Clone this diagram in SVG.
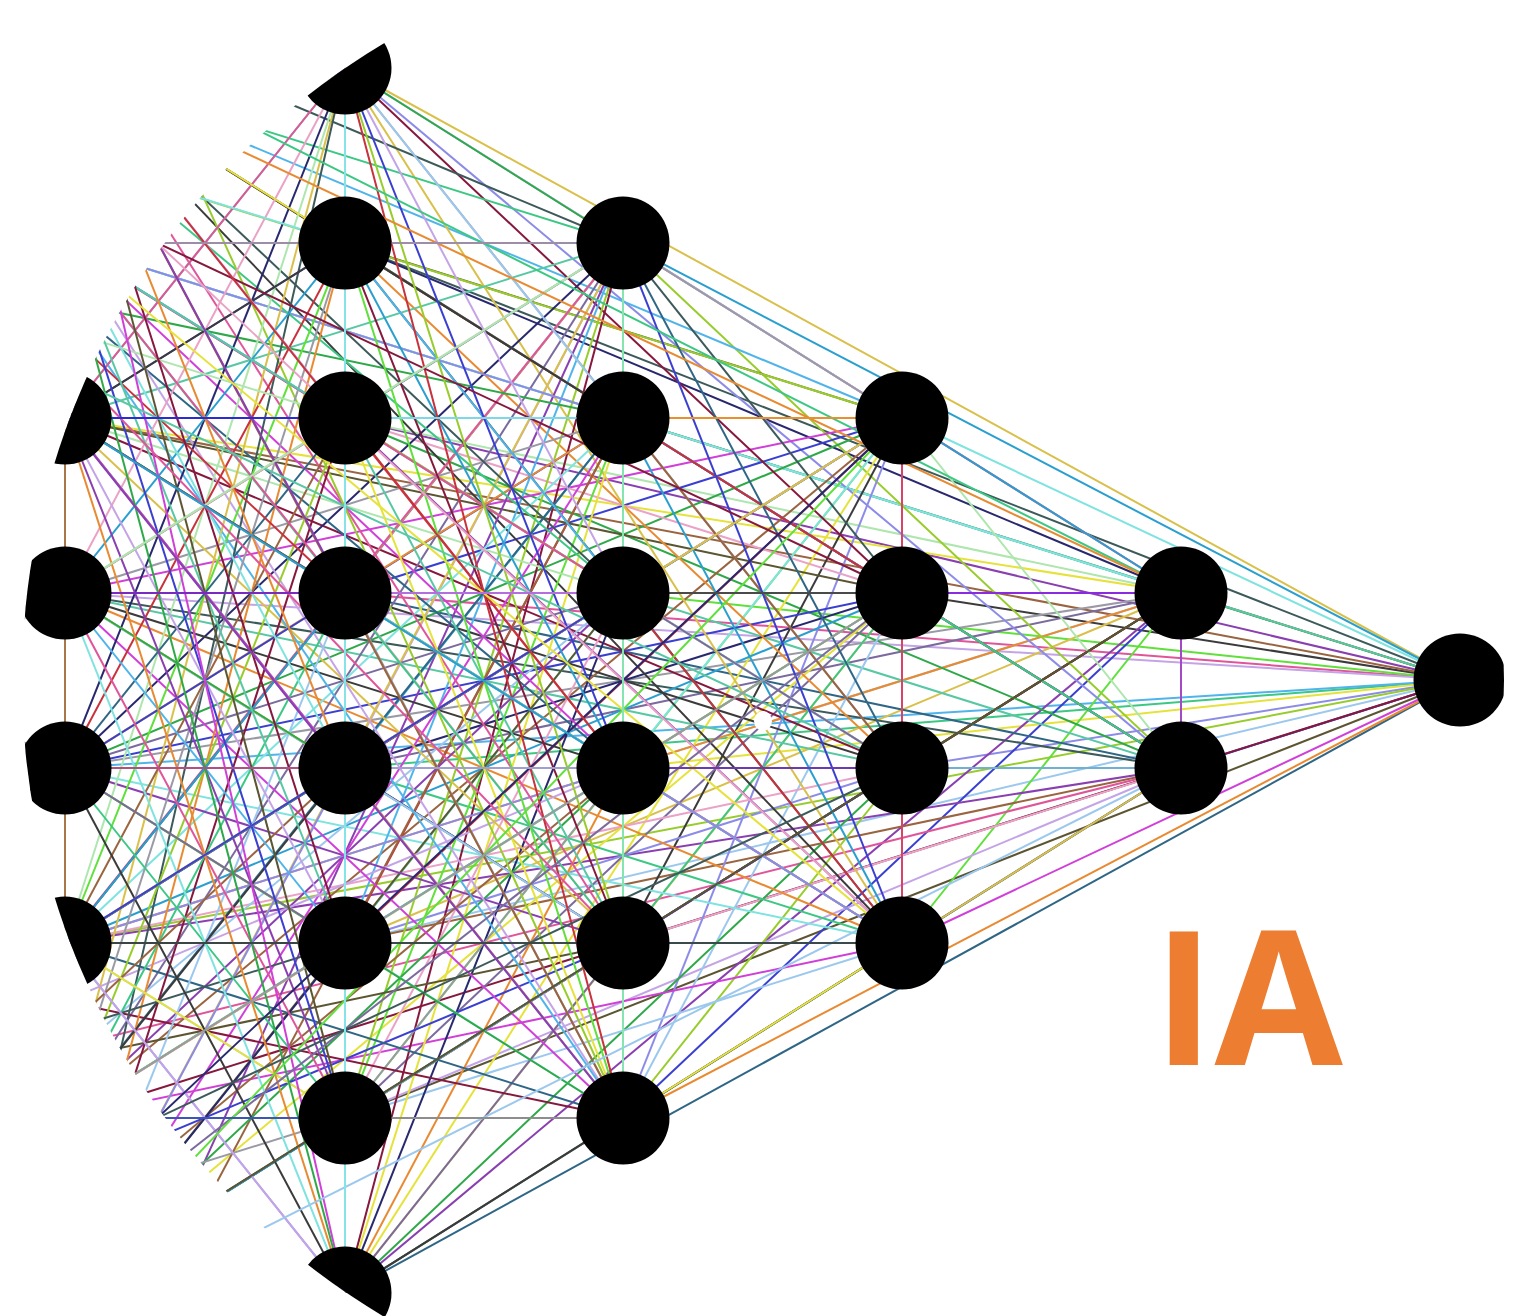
<svg xmlns="http://www.w3.org/2000/svg" width="1519" height="1316" viewBox="0 0 1519 1316">
<defs>
<clipPath id="disc"><circle cx="763" cy="680" r="741"/></clipPath>
<style>
.w path{fill:none;stroke-width:2}
.k0{stroke:#d9c04a}.k1{stroke:#3d5a5a}.k2{stroke:#8a3fb0}.k3{stroke:#e0559a}.k4{stroke:#3cc884}
.k5{stroke:#9cc8ee}.k6{stroke:#5c5532}.k7{stroke:#3a3fd0}.k8{stroke:#2a9fcf}.k9{stroke:#c8323c}
.k10{stroke:#5fe03a}.k11{stroke:#e6e23c}.k12{stroke:#9a9aa6}.k13{stroke:#e88a32}.k14{stroke:#7fe3e0}
.k15{stroke:#3b3b3b}.k16{stroke:#8c8ce8}.k17{stroke:#d040d8}.k18{stroke:#2ea848}.k19{stroke:#2f6685}
.k20{stroke:#9a6440}.k21{stroke:#c4a4e6}.k22{stroke:#4fb4ea}.k23{stroke:#98cc2c}.k24{stroke:#86183e}
.k25{stroke:#58c8a4}.k26{stroke:#eaa2c6}.k27{stroke:#28286e}.k28{stroke:#aee6ae}.k29{stroke:#7a6a9e}
.n circle{fill:#000}
.ia{font-family:"Open Sans","Liberation Sans",sans-serif;font-weight:700;font-size:186px;fill:#ED7D31}
</style>
</defs>

<g id="connectors" class="w" clip-path="url(#disc)">
<!-- output node -->
<path class="k0" d="M1460 680L345 68"/><path class="k1" d="M1460 680L345 243"/><path class="k2" d="M1460 680L345 418"/>
<path class="k3" d="M1460 680L345 593"/><path class="k4" d="M1460 680L345 768"/><path class="k5" d="M1460 680L345 943"/>
<path class="k6" d="M1460 680L345 1118"/><path class="k19" d="M1460 680L345 1293"/><path class="k8" d="M1460 680L623 243"/>
<path class="k9" d="M1460 680L623 418"/><path class="k10" d="M1460 680L623 593"/><path class="k11" d="M1460 680L623 768"/>
<path class="k12" d="M1460 680L623 943"/><path class="k13" d="M1460 680L623 1118"/><path class="k14" d="M1460 680L902 418"/>
<path class="k15" d="M1460 680L902 593"/><path class="k16" d="M1460 680L902 768"/><path class="k17" d="M1460 680L902 943"/>
<path class="k18" d="M1460 680L1181 593"/><path class="k7" d="M1460 680L1181 768"/><path class="k20" d="M1460 680L65 418"/>
<path class="k21" d="M1460 680L65 593"/><path class="k22" d="M1460 680L65 768"/><path class="k23" d="M1460 680L65 943"/>
<path class="k24" d="M1460 680L65 1118"/><path class="k25" d="M1460 680L65 243"/>
<!-- layer E -->
<path class="k26" d="M1181 593L345 68"/><path class="k27" d="M1181 593L345 243"/><path class="k28" d="M1181 593L345 418"/>
<path class="k29" d="M1181 593L345 768"/><path class="k0" d="M1181 593L345 943"/><path class="k1" d="M1181 593L345 1118"/>
<path class="k2" d="M1181 593L345 1293"/><path class="k3" d="M1181 593L623 243"/><path class="k4" d="M1181 593L623 418"/>
<path class="k5" d="M1181 593L623 768"/><path class="k6" d="M1181 593L623 943"/><path class="k7" d="M1181 593L623 1118"/>
<path class="k8" d="M1181 593L902 418"/><path class="k9" d="M1181 593L902 768"/><path class="k10" d="M1181 593L902 943"/>
<path class="k11" d="M1181 593L65 418"/><path class="k12" d="M1181 593L65 768"/><path class="k13" d="M1181 593L65 943"/>
<path class="k14" d="M1181 593L65 243"/><path class="k15" d="M1181 593L65 1293"/>
<path class="k16" d="M1181 768L345 68"/><path class="k17" d="M1181 768L345 243"/><path class="k18" d="M1181 768L345 418"/>
<path class="k19" d="M1181 768L345 593"/><path class="k20" d="M1181 768L345 943"/><path class="k21" d="M1181 768L345 1118"/>
<path class="k22" d="M1181 768L345 1293"/><path class="k23" d="M1181 768L623 243"/><path class="k24" d="M1181 768L623 418"/>
<path class="k25" d="M1181 768L623 593"/><path class="k26" d="M1181 768L623 943"/><path class="k27" d="M1181 768L623 1118"/>
<path class="k28" d="M1181 768L902 418"/><path class="k29" d="M1181 768L902 593"/><path class="k0" d="M1181 768L902 943"/>
<path class="k1" d="M1181 768L65 593"/><path class="k2" d="M1181 768L65 943"/><path class="k3" d="M1181 768L-215 1118"/>
<path class="k4" d="M1181 768L65 68"/>
<!-- layer D -->
<path class="k5" d="M902 418L345 68"/><path class="k6" d="M902 418L345 243"/><path class="k7" d="M902 418L345 593"/>
<path class="k8" d="M902 418L345 768"/><path class="k9" d="M902 418L345 943"/><path class="k10" d="M902 418L345 1118"/>
<path class="k11" d="M902 418L345 1293"/><path class="k12" d="M902 418L623 243"/><path class="k13" d="M902 418L623 593"/>
<path class="k14" d="M902 418L623 768"/><path class="k15" d="M902 418L623 943"/><path class="k16" d="M902 418L623 1118"/>
<path class="k17" d="M902 418L65 593"/><path class="k18" d="M902 418L65 768"/><path class="k19" d="M902 418L65 943"/>
<path class="k20" d="M902 418L65 1118"/><path class="k21" d="M902 418L-215 1118"/><path class="k22" d="M902 418L65 68"/>
<path class="k23" d="M902 418L-215 68"/>
<path class="k24" d="M902 593L345 68"/><path class="k25" d="M902 593L345 243"/><path class="k26" d="M902 593L345 418"/>
<path class="k27" d="M902 593L345 768"/><path class="k28" d="M902 593L345 943"/><path class="k29" d="M902 593L345 1118"/>
<path class="k0" d="M902 593L345 1293"/><path class="k1" d="M902 593L623 243"/><path class="k2" d="M902 593L623 418"/>
<path class="k3" d="M902 593L623 768"/><path class="k4" d="M902 593L623 943"/><path class="k5" d="M902 593L623 1118"/>
<path class="k6" d="M902 593L65 418"/><path class="k7" d="M902 593L65 768"/><path class="k8" d="M902 593L65 943"/>
<path class="k9" d="M902 593L65 68"/><path class="k10" d="M902 593L-215 1293"/><path class="k11" d="M902 593L65 1293"/>
<path class="k12" d="M902 768L345 68"/><path class="k13" d="M902 768L345 243"/><path class="k14" d="M902 768L345 418"/>
<path class="k15" d="M902 768L345 593"/><path class="k16" d="M902 768L345 943"/><path class="k17" d="M902 768L345 1118"/>
<path class="k18" d="M902 768L345 1293"/><path class="k19" d="M902 768L623 243"/><path class="k20" d="M902 768L623 418"/>
<path class="k21" d="M902 768L623 593"/><path class="k22" d="M902 768L623 943"/><path class="k23" d="M902 768L623 1118"/>
<path class="k24" d="M902 768L65 418"/><path class="k25" d="M902 768L65 593"/><path class="k26" d="M902 768L65 943"/>
<path class="k27" d="M902 768L65 1293"/><path class="k28" d="M902 768L-215 68"/><path class="k29" d="M902 768L65 243"/>
<path class="k0" d="M902 943L345 68"/><path class="k1" d="M902 943L345 243"/><path class="k2" d="M902 943L345 418"/>
<path class="k3" d="M902 943L345 593"/><path class="k4" d="M902 943L345 768"/><path class="k5" d="M902 943L345 1118"/>
<path class="k6" d="M902 943L345 1293"/><path class="k7" d="M902 943L623 243"/><path class="k8" d="M902 943L623 418"/>
<path class="k9" d="M902 943L623 593"/><path class="k10" d="M902 943L623 768"/><path class="k11" d="M902 943L623 1118"/>
<path class="k12" d="M902 943L65 418"/><path class="k13" d="M902 943L65 593"/><path class="k14" d="M902 943L65 768"/>
<path class="k15" d="M902 943L65 68"/><path class="k16" d="M902 943L-215 243"/><path class="k17" d="M902 943L65 1118"/>
<!-- layer C -->
<path class="k18" d="M623 243L345 68"/><path class="k19" d="M623 243L345 418"/><path class="k20" d="M623 243L345 593"/>
<path class="k21" d="M623 243L345 768"/><path class="k22" d="M623 243L345 943"/><path class="k23" d="M623 243L345 1118"/>
<path class="k24" d="M623 243L345 1293"/><path class="k25" d="M623 243L65 418"/><path class="k26" d="M623 243L65 593"/>
<path class="k27" d="M623 243L65 768"/><path class="k28" d="M623 243L65 943"/><path class="k29" d="M623 243L65 1118"/>
<path class="k0" d="M623 243L65 1293"/><path class="k1" d="M623 243L-215 -107"/><path class="k2" d="M623 243L65 1468"/>
<path class="k3" d="M623 243L-215 1293"/><path class="k4" d="M623 243L65 68"/>
<path class="k5" d="M623 418L345 68"/><path class="k6" d="M623 418L345 243"/><path class="k7" d="M623 418L345 593"/>
<path class="k8" d="M623 418L345 768"/><path class="k9" d="M623 418L345 943"/><path class="k10" d="M623 418L345 1118"/>
<path class="k11" d="M623 418L345 1293"/><path class="k12" d="M623 418L65 593"/><path class="k13" d="M623 418L65 768"/>
<path class="k14" d="M623 418L65 943"/><path class="k15" d="M623 418L65 68"/><path class="k16" d="M623 418L65 243"/>
<path class="k17" d="M623 418L65 1293"/><path class="k18" d="M623 418L-215 243"/><path class="k19" d="M623 418L-215 1468"/>
<path class="k20" d="M623 418L65 1468"/>
<path class="k21" d="M623 593L345 68"/><path class="k22" d="M623 593L345 243"/><path class="k23" d="M623 593L345 418"/>
<path class="k24" d="M623 593L345 768"/><path class="k25" d="M623 593L345 943"/><path class="k26" d="M623 593L345 1118"/>
<path class="k27" d="M623 593L345 1293"/><path class="k28" d="M623 593L65 418"/><path class="k29" d="M623 593L65 768"/>
<path class="k0" d="M623 593L65 943"/><path class="k1" d="M623 593L65 68"/><path class="k2" d="M623 593L65 1118"/>
<path class="k3" d="M623 593L-215 68"/><path class="k4" d="M623 593L-215 -107"/><path class="k5" d="M623 593L-215 1293"/>
<path class="k6" d="M623 593L65 1293"/>
<path class="k7" d="M623 768L345 68"/><path class="k8" d="M623 768L345 243"/><path class="k9" d="M623 768L345 418"/>
<path class="k10" d="M623 768L345 593"/><path class="k11" d="M623 768L345 943"/><path class="k12" d="M623 768L345 1118"/>
<path class="k13" d="M623 768L345 1293"/><path class="k14" d="M623 768L65 418"/><path class="k15" d="M623 768L65 593"/>
<path class="k16" d="M623 768L65 943"/><path class="k17" d="M623 768L65 243"/><path class="k18" d="M623 768L65 1293"/>
<path class="k19" d="M623 768L-215 68"/><path class="k20" d="M623 768L-215 1468"/><path class="k21" d="M623 768L-215 1118"/>
<path class="k22" d="M623 768L65 1118"/>
<path class="k23" d="M623 943L345 68"/><path class="k24" d="M623 943L345 243"/><path class="k25" d="M623 943L345 418"/>
<path class="k26" d="M623 943L345 593"/><path class="k27" d="M623 943L345 768"/><path class="k28" d="M623 943L345 1118"/>
<path class="k29" d="M623 943L345 1293"/><path class="k0" d="M623 943L65 418"/><path class="k1" d="M623 943L65 593"/>
<path class="k2" d="M623 943L65 768"/><path class="k3" d="M623 943L65 68"/><path class="k4" d="M623 943L65 243"/>
<path class="k5" d="M623 943L-215 418"/><path class="k6" d="M623 943L-215 1118"/><path class="k7" d="M623 943L-215 1293"/>
<path class="k8" d="M623 943L65 1293"/>
<path class="k9" d="M623 1118L345 68"/><path class="k10" d="M623 1118L345 243"/><path class="k11" d="M623 1118L345 418"/>
<path class="k12" d="M623 1118L345 593"/><path class="k13" d="M623 1118L345 768"/><path class="k14" d="M623 1118L345 943"/>
<path class="k15" d="M623 1118L345 1293"/><path class="k16" d="M623 1118L65 418"/><path class="k17" d="M623 1118L65 593"/>
<path class="k18" d="M623 1118L65 768"/><path class="k19" d="M623 1118L65 943"/><path class="k20" d="M623 1118L65 68"/>
<path class="k21" d="M623 1118L65 243"/><path class="k22" d="M623 1118L-215 -107"/><path class="k23" d="M623 1118L65 -107"/>
<path class="k24" d="M623 1118L-215 943"/>
<!-- layer B -->
<path class="k25" d="M345 68L65 418"/><path class="k26" d="M345 68L65 593"/><path class="k27" d="M345 68L65 768"/>
<path class="k28" d="M345 68L65 943"/><path class="k29" d="M345 68L65 243"/><path class="k0" d="M345 68L65 1118"/>
<path class="k1" d="M345 68L65 1293"/><path class="k2" d="M345 68L-215 418"/><path class="k3" d="M345 68L-215 768"/>
<path class="k6" d="M345 68L-215 243"/>
<path class="k7" d="M345 243L65 418"/><path class="k8" d="M345 243L65 593"/><path class="k9" d="M345 243L65 768"/>
<path class="k10" d="M345 243L65 943"/><path class="k11" d="M345 243L65 68"/><path class="k12" d="M345 243L65 1118"/>
<path class="k13" d="M345 243L65 1293"/><path class="k14" d="M345 243L-215 68"/><path class="k15" d="M345 243L-215 593"/>
<path class="k18" d="M345 418L65 593"/><path class="k19" d="M345 418L65 768"/><path class="k20" d="M345 418L65 943"/>
<path class="k21" d="M345 418L65 68"/><path class="k22" d="M345 418L65 243"/><path class="k23" d="M345 418L65 1118"/>
<path class="k24" d="M345 418L65 1293"/><path class="k25" d="M345 418L-215 68"/><path class="k26" d="M345 418L-215 768"/>
<path class="k28" d="M345 418L-215 243"/>
<path class="k29" d="M345 593L65 418"/><path class="k0" d="M345 593L65 768"/><path class="k1" d="M345 593L65 943"/>
<path class="k2" d="M345 593L65 68"/><path class="k3" d="M345 593L65 243"/><path class="k4" d="M345 593L65 1118"/>
<path class="k5" d="M345 593L65 1293"/><path class="k6" d="M345 593L-215 243"/><path class="k7" d="M345 593L-215 943"/>
<path class="k8" d="M345 593L-215 1293"/><path class="k9" d="M345 593L-215 68"/>
<path class="k10" d="M345 768L65 418"/><path class="k11" d="M345 768L65 593"/><path class="k12" d="M345 768L65 943"/>
<path class="k13" d="M345 768L65 68"/><path class="k14" d="M345 768L65 243"/><path class="k15" d="M345 768L65 1118"/>
<path class="k16" d="M345 768L65 1293"/><path class="k17" d="M345 768L-215 68"/><path class="k18" d="M345 768L-215 418"/>
<path class="k19" d="M345 768L-215 1118"/><path class="k20" d="M345 768L-215 1293"/>
<path class="k21" d="M345 943L65 418"/><path class="k22" d="M345 943L65 593"/><path class="k23" d="M345 943L65 768"/>
<path class="k24" d="M345 943L65 68"/><path class="k25" d="M345 943L65 243"/><path class="k26" d="M345 943L65 1118"/>
<path class="k27" d="M345 943L65 1293"/><path class="k29" d="M345 943L-215 593"/>
<path class="k0" d="M345 943L-215 1293"/><path class="k1" d="M345 943L-215 1118"/>
<path class="k2" d="M345 1118L65 418"/><path class="k3" d="M345 1118L65 593"/><path class="k4" d="M345 1118L65 768"/>
<path class="k5" d="M345 1118L65 943"/><path class="k6" d="M345 1118L65 68"/><path class="k7" d="M345 1118L65 243"/>
<path class="k8" d="M345 1118L65 1293"/><path class="k11" d="M345 1118L-215 768"/><path class="k12" d="M345 1118L-215 1293"/>
<path class="k13" d="M345 1293L65 418"/><path class="k14" d="M345 1293L65 593"/><path class="k15" d="M345 1293L65 768"/>
<path class="k16" d="M345 1293L65 943"/><path class="k17" d="M345 1293L65 68"/><path class="k18" d="M345 1293L65 243"/>
<path class="k19" d="M345 1293L65 1118"/><path class="k21" d="M345 1293L-215 593"/>
<path class="k22" d="M345 1293L-215 943"/><path class="k23" d="M345 1293L-215 1118"/>
<!-- long cross links -->
<path class="k24" d="M-215 68L902 593"/><path class="k25" d="M-215 243L902 768"/><path class="k26" d="M-215 -107L902 943"/>
<path class="k27" d="M-215 1468L902 418"/><path class="k28" d="M-215 768L623 243"/><path class="k29" d="M-215 1468L902 593"/>
<path class="k0" d="M-215 1118L902 418"/><path class="k1" d="M-215 1293L902 768"/><path class="k2" d="M-215 68L623 1118"/>
<path class="k3" d="M-215 68L623 943"/><path class="k4" d="M-215 -107L1181 593"/><path class="k5" d="M-215 1468L1181 768"/>
<path class="k6" d="M-215 1468L1181 593"/><path class="k7" d="M-215 1118L623 593"/><path class="k8" d="M-215 243L623 768"/>
<path class="k9" d="M65 68L623 768"/><path class="k10" d="M65 1293L902 418"/><path class="k11" d="M65 243L902 943"/>
<path class="k12" d="M65 1118L902 593"/><path class="k13" d="M65 68L1181 593"/>
<!-- straight rows -->
<path stroke="#9b8ea6" d="M-215 243L623 243"/>
<path stroke="#2b2bd6" d="M65 418L345 418"/><path stroke="#7fd8e8" d="M345 418L623 418"/><path stroke="#e8902e" d="M623 418L902 418"/>
<path stroke="#7a2ac0" d="M65 593L345 593"/><path stroke="#b46ee0" d="M345 593L623 593"/><path stroke="#4a4a4a" d="M623 593L902 593"/><path stroke="#8a2be2" d="M902 593L1181 593"/>
<path stroke="#b05080" d="M65 768L345 768"/><path stroke="#a0a0d0" d="M345 768L623 768"/><path stroke="#6a3ab0" d="M623 768L902 768"/><path stroke="#70b0d0" d="M902 768L1181 768"/>
<path stroke="#3a4545" d="M65 943L345 943"/><path stroke="#3a4a4a" d="M345 943L902 943"/>
<path stroke="#3d55b5" d="M-215 1118L345 1118"/><path stroke="#8d8d8d" d="M345 1118L623 1118"/>
<!-- straight columns -->
<path stroke="#a8784a" d="M65 418L65 943"/>
<path stroke="#86e4e6" d="M345 68L345 1293"/>
<path stroke="#86e4b0" d="M623 243L623 1118"/>
<path stroke="#d84468" d="M902 418L902 943"/>
<path stroke="#a448c8" d="M1181 593L1181 768"/>
<ellipse cx="763" cy="721" rx="9" ry="10" fill="#fff"/>
</g>

<g id="nodes" class="n" clip-path="url(#disc)">
<g id="node-a1"><circle cx="65" cy="418" r="46.5"/></g>
<g id="node-a2"><circle cx="65" cy="593" r="46.5"/></g>
<g id="node-a3"><circle cx="65" cy="768" r="46.5"/></g>
<g id="node-a4"><circle cx="65" cy="943" r="46.5"/></g>
<g id="node-b0"><circle cx="345" cy="68" r="46.5"/></g>
<g id="node-b1"><circle cx="345" cy="243" r="46.5"/></g>
<g id="node-b2"><circle cx="345" cy="418" r="46.5"/></g>
<g id="node-b3"><circle cx="345" cy="593" r="46.5"/></g>
<g id="node-b4"><circle cx="345" cy="768" r="46.5"/></g>
<g id="node-b5"><circle cx="345" cy="943" r="46.5"/></g>
<g id="node-b6"><circle cx="345" cy="1118" r="46.5"/></g>
<g id="node-b7"><circle cx="345" cy="1293" r="46.5"/></g>
<g id="node-c1"><circle cx="623" cy="243" r="46.5"/></g>
<g id="node-c2"><circle cx="623" cy="418" r="46.5"/></g>
<g id="node-c3"><circle cx="623" cy="593" r="46.5"/></g>
<g id="node-c4"><circle cx="623" cy="768" r="46.5"/></g>
<g id="node-c5"><circle cx="623" cy="943" r="46.5"/></g>
<g id="node-c6"><circle cx="623" cy="1118" r="46.5"/></g>
<g id="node-d1"><circle cx="902" cy="418" r="46.5"/></g>
<g id="node-d2"><circle cx="902" cy="593" r="46.5"/></g>
<g id="node-d3"><circle cx="902" cy="768" r="46.5"/></g>
<g id="node-d4"><circle cx="902" cy="943" r="46.5"/></g>
<g id="node-e1"><circle cx="1181" cy="593" r="46.5"/></g>
<g id="node-e2"><circle cx="1181" cy="768" r="46.5"/></g>
<g id="node-out"><circle cx="1460" cy="680" r="46.5"/></g>
</g>

<text class="ia" x="1153" y="1065">IA</text>
</svg>
